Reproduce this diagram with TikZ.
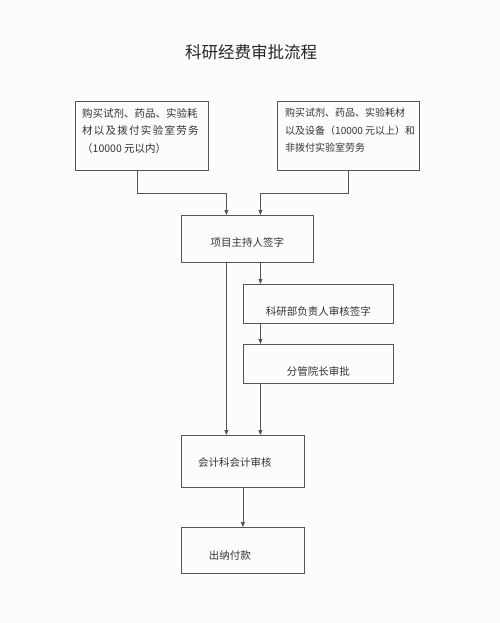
\documentclass[tikz,border=0pt]{standalone}
\usepackage{fontspec}
\setmainfont{Noto Sans CJK SC}
\usetikzlibrary{arrows.meta,positioning}
\definecolor{ink}{HTML}{555555}
\definecolor{paper}{HTML}{FBFCFD}

\begin{document}
\begin{tikzpicture}[x=1pt,y=-1pt,>={Triangle[length=5pt,width=4pt]},
 box/.style={draw=ink,line width=0.8pt,anchor=north west,inner sep=0pt},
 txt/.style={font=\fontsize{10.5}{17.5}\selectfont,text=black!80,inner sep=0pt},
 link/.style={draw=ink,line width=0.8pt}]
\fill[paper] (0,0) rectangle (500,623);
\useasboundingbox (0,0) rectangle (500,623);
\node[font=\fontsize{16.5}{20}\selectfont,text=black!85] (title) at (251,52) {科研经费审批流程};
% two kinds of purchase
\node[box,minimum width=133pt,minimum height=69pt,
 label={[txt,anchor=north west,align=left,xshift=7pt,yshift=-7pt]north west:购买试剂、药品、实验耗\\{\addfontfeature{LetterSpace=12}材以及拨付实验室劳务}\\（10000 元以内）}] (small) at (75,101) {};
\node[box,minimum width=142pt,minimum height=69pt,
 label={[txt,font=\fontsize{10}{17.5}\selectfont,anchor=north west,align=left,xshift=8pt,yshift=-7pt]north west:购买试剂、药品、实验耗材\\以及设备（10000 元以上）和\\非拨付实验室劳务}] (large) at (277,101) {};
% approval chain
\node[box,minimum width=132pt,minimum height=47pt,label={[txt,yshift=-3.5pt]center:项目主持人签字}] (sign) at (181,215) {};
\node[box,minimum width=150pt,minimum height=39pt,label={[txt,yshift=-7.5pt]center:科研部负责人审核签字}] (dept) at (243,284) {};
\node[box,minimum width=150pt,minimum height=39pt,label={[txt,yshift=-7.5pt]center:分管院长审批}] (vp) at (243,344) {};
\node[box,minimum width=123pt,minimum height=52pt,label={[txt,xshift=-8pt,yshift=-1pt]center:会计科会计审核}] (acct) at (181,435) {};
\node[box,minimum width=123pt,minimum height=46pt,label={[txt,xshift=-13pt,yshift=-5pt]center:出纳付款}] (cash) at (181,527) {};
% connectors
\draw[link,->] ([xshift=-4.5pt]small.south) -- ++(0,23) -| ([xshift=-21pt]sign.north);
\draw[link,->] (large.south) -- ++(0,23) -| ([xshift=13pt]sign.north);
\draw[link,->] ([xshift=13pt]sign.south) -- ([xshift=13pt]sign.south |- dept.north);
\draw[link,->] ([xshift=-58pt]dept.south) -- ([xshift=-58pt]dept.south |- vp.north);
\draw[link,->] ([xshift=-58pt]vp.south) -- ([xshift=-58pt]vp.south |- acct.north);
\draw[link,->] ([xshift=-21pt]sign.south) -- ([xshift=-21pt]sign.south |- acct.north);
\draw[link,->] (acct.south) -- (cash.north);
\end{tikzpicture}
\end{document}
